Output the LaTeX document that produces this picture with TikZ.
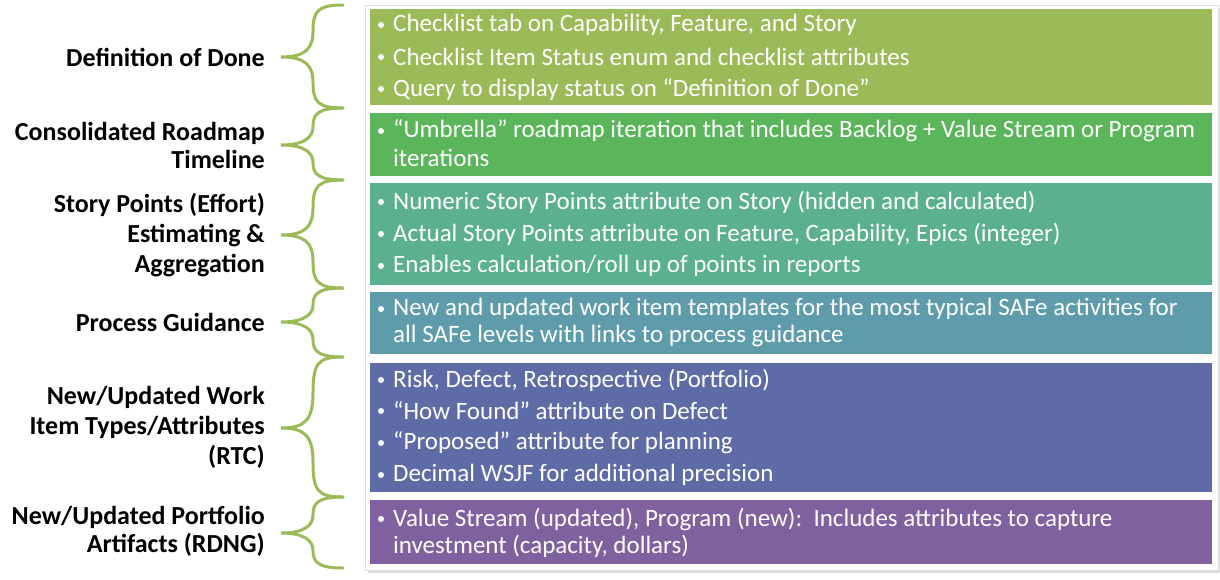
\documentclass[tikz,border=0pt]{standalone}
\usepackage{fontspec}
\setmainfont{Carlito}
\usetikzlibrary{shadows}
\definecolor{cDone}{HTML}{9BBB59}
\definecolor{cRoad}{HTML}{5BB65B}
\definecolor{cPts}{HTML}{5BB18F}
\definecolor{cProc}{HTML}{5E9CAC}
\definecolor{cWork}{HTML}{5F6BA7}
\definecolor{cPort}{HTML}{7F61A0}
\tikzstyle{band} = [anchor=north west, inner sep=0pt, minimum width=842pt]
\tikzstyle{item} = [anchor=west, inner sep=0pt, text=white, font=\fontsize{25}{30}\selectfont]
\tikzstyle{topic} = [anchor=east, inner sep=0pt, align=right, font=\bfseries\fontsize{26}{28}\selectfont]
\tikzstyle{curly} = [draw=cDone, line width=3pt, line cap=round]
\newcommand{\curlyb}[3]{% top, tip, bottom
  \draw [curly] (343,#1) .. controls (318,#1) and (313,#1+6) .. (313,{(#1+#2)/2})
    .. controls (313,#2-8) and (305,#2) .. (281,#2)
    .. controls (305,#2) and (313,#2+8) .. (313,{(#2+#3)/2})
    .. controls (313,#3-6) and (318,#3) .. (343,#3);}
\newcommand{\dotat}[1]{\fill [white] (381,#1) circle (3pt);}
\begin{document}
\begin{tikzpicture}[x=1pt,y=-1pt]
\useasboundingbox (0,0) rectangle (1220,579);
\node (panel) [anchor=north west, minimum width=853pt, minimum height=565pt, fill=white, draw=gray!25, drop shadow={opacity=0.3}] at (365,5) {};
% bands
\node (bDone) [band, fill=cDone, minimum height=96pt] at (370,9) {};
\node (bRoad) [band, fill=cRoad, minimum height=63pt] at (370,113) {};
\node (bPts) [band, fill=cPts, minimum height=102pt] at (370,183) {};
\node (bProc) [band, fill=cProc, minimum height=62pt] at (370,292) {};
\node (bWork) [band, fill=cWork, minimum height=129pt] at (370,363) {};
\node (bPort) [band, fill=cPort, minimum height=64pt] at (370,500) {};
% items
\node (i1) [item] at (393,25) {Checklist tab on Capability, Feature, and Story};
\node (i2) [item] at (393,57) {Checklist Item Status enum and checklist attributes};
\node (i3) [item] at (393,89) {Query to display status on “Definition of Done”};
\node (i4) [item] at (393,131) {“Umbrella” roadmap iteration that includes Backlog + Value Stream or Program};
\node (i4b) [item] at (393,158) {iterations};
\node (i5) [item] at (393,202) {Numeric Story Points attribute on Story (hidden and calculated)};
\node (i6) [item] at (393,234) {Actual Story Points attribute on Feature, Capability, Epics (integer)};
\node (i7) [item] at (393,266) {Enables calculation/roll up of points in reports};
\node (i8) [item] at (393,309) {New and updated work item templates for the most typical SAFe activities for};
\node (i8b) [item] at (393,336) {all SAFe levels with links to process guidance};
\node (i9) [item] at (393,380) {Risk, Defect, Retrospective (Portfolio)};
\node (i10) [item] at (393,411) {“How Found” attribute on Defect};
\node (i11) [item] at (393,443) {“Proposed” attribute for planning};
\node (i12) [item] at (393,475) {Decimal WSJF for additional precision};
\node (i13) [item] at (393,519) {Value Stream (updated), Program (new):\ \ Includes attributes to capture};
\node (i13b) [item] at (393,546) {investment (capacity, dollars)};
\foreach \y in {25,57,89,131,202,234,266,309,380,411,443,475,519} {\dotat{\y}}
% topics
\node (tDone) [topic] at (265,57) {Definition of Done};
\node (tRoad) [topic] at (265,145) {Consolidated Roadmap\\Timeline};
\node (tPts) [topic, font=\bfseries\fontsize{26}{30}\selectfont] at (265,235) {Story Points (Effort)\\Estimating \&\\Aggregation};
\node (tProc) [topic] at (265,322) {Process Guidance};
\node (tWork) [topic, font=\bfseries\fontsize{26}{30}\selectfont] at (265,427) {New/Updated Work\\Item Types/Attributes\\(RTC)};
\node (tPort) [topic] at (265,531) {New/Updated Portfolio\\Artifacts (RDNG)};
% braces
\curlyb{5}{57}{108}
\curlyb{108}{145}{180}
\curlyb{180}{235}{288}
\curlyb{288}{322}{357}
\curlyb{357}{428}{497}
\curlyb{497}{533}{568}
\end{tikzpicture}
\end{document}
